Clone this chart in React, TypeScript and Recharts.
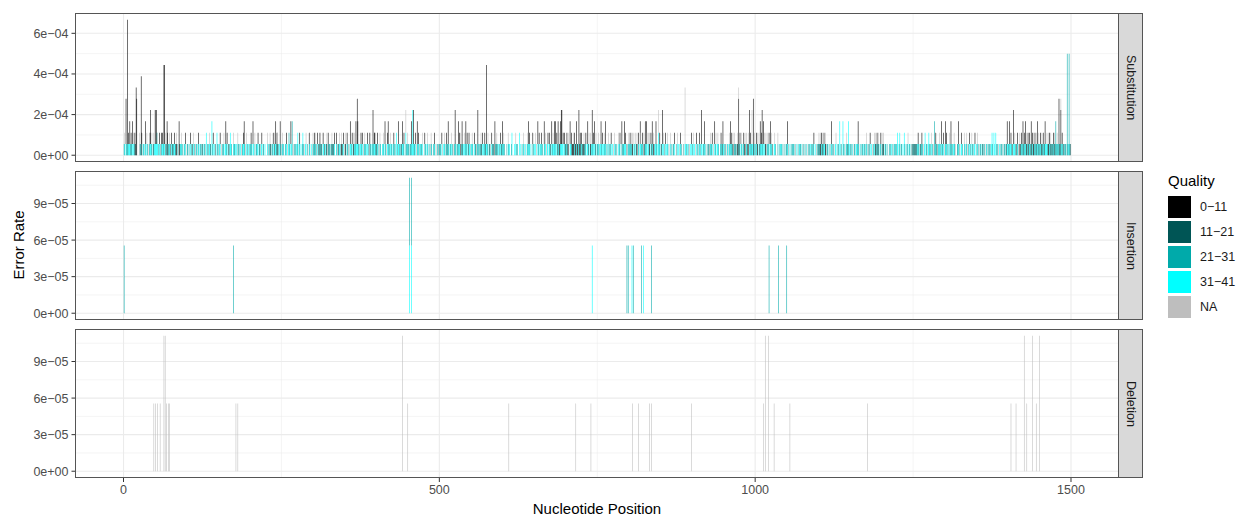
import React from "react";
import { BarChart, Bar, XAxis, YAxis, CartesianGrid } from "recharts";

// one read out of 18000 -> every bar is a whole number of these steps
const STEP = 1 / 18000;
const LAST_POSITION = 1500;

const qualityKeys = ["q0", "q1", "q2", "q3", "qNA"];
const qualityLabels = ["0\u221211", "11\u221221", "21\u221231", "31\u221241", "NA"];
const qualityColors = ["#000000", "#005555", "#00AAAA", "#00FFFF", "#BEBEBE"];
// ggplot stacks the last level at the bottom
const stackOrder = [3, 2, 1, 0, 4];

// Substitution, one character per position (100 per line, spaces only for reading)
// .           nothing
// c t d k g   one step of 31-41 / 21-31 / 11-21 / 0-11 / NA
// C T D K G   that step with one NA step on top
// B V W w     cyan / teal / 11-21 / cyan step with one 0-11 step on top
// x z         cyan+cyan, teal+cyan
// 3..9        a cyan step with 0-11 steps up to that height
const substitutionCodes = [
  "tC.dtTtBc3 tVt3.Cdwkd k...GttcB. tc.t3.Ctg. tB4tC.dT4c 4txCt.BtgV cBtC8.DtwW ttCd.wtdtc BtdK.tg3dc tCt..tcBg.",
  "tt.cgB.td. Ct.gtc.tB. ctt.dc.tcg x.t.tCcd.3 tB.cgd.xt. tcB.g.ttC. c3tB.d.txc t..Cttc.cg Ctt.c.gtcB 3tg.Ct.c.t",
  "tBt.3cgC.t tcB.td.cw. tt.c...Ctg cDd.ttB.Dc 3tWDt.c3d. tCt..ctB.g czt.3cx.g. tt.ctx.tB. c.txtg.cC. tg.Bt..cgC",
  "tBdCtgw.dt Wtdt.wcd.c tK.Bdtt.cK tdtB..wtgd cCt.KdtB.g Kt.Btgt.3c tB.KtCt3cd 3tt.cBtw.g tCt.cB.tgW tc.t4tBwtd",
  "tBt.gCt..c tC.3tg.B3t t.Ctc.tBtg cx.t3ct.td c3tB.g4ttC tt.cd3cx4t tB.g3twt.c ttC..gBtc. Ct..tgCt.. tBt..gcd.t",
  "tt.Bg.cCt. Bdt3t.ctC. tg.t4c.tt3 tB.Kt3dc.C t3tB.dwc.t cCt..Btd.t 4t.tcKtB.c tBdc8tC.dt g.Btdt.3cd Ct.ct.Btd3",
  "tCt..gc.Ct c..tx...c. Ct.t..x.c. t.Ct.c..tC 3tB.c.gwt. cC.g.3tB.c tBt..3tC.g cB.wtd.3tC c3t3.Bd3tK t3t4cw.Btd",
  "tBdK..3cwk kKdBdk3dkt 4kWdBtdkCd tB.c3dC.Kt c4tB.3dC.t tCt.c3tB.c Ct3t.cgCt. tB.c.gC.t. t..CtB.g3t tt3cB.d.tC",
  "tBtCdK.Ct. CdK.Bt.3Ct tB.Kt3t3C. CtK.Bd3tK. tC3t.c4tB. td4.CtgB.c Ct..gCt..t tB..tgC.c. tBt..gt.6c t.c.tg.cB.",
  "tC.c.gB.t. tBt.4c.tt3 cg.t.td.Ct tB.g.3tC.c Ct..tBtd3c t.tg.ct.Ct 3tBtK.Cdt. tKtWdB.Ct. tBdK.CtdK. 4tBt4c5dC.",
  "tBtK.Cd3tB 4t3.CdK.Ct tB.3tCd..c Ct..gC.t.c tc.t.gc.tt 3tg.c.t.tc t.tg.c.t.c tt.cg.t.t. cg.t.t.ct. ttB..cg.tt",
  "DtKdBtDtBc Kd.tt.cg.t 3t.tg.cC.. tt.3cgt.3t cg.tCtd3c. tt.cg.tt.c ct3t.gc.tt c.tt.Ct.tg tB.c.gt.Ct KtBdDc.tB.",
  "DtKc.tt.cg ..tt.c.t.t ct.txc.tx. tt.c.xt.cg tC.tc.tgdc ddtdtdcBt. tdtBtg.cx. tt.cxt.tC. tg.3tBtd.c tCt.3ttB.g",
  "3tBt.cgCt3 tt.cCtg..t t3tg.cBt.. Ct.tCg.tB. t.Ctt.cB.. tCtg.tt.cd t.tg.ct.t. tt.cxt.xc. xt.tg.c.tt cg.tt.td3c",
  "tt3cBtd.4c Ct.dBtg.Kd tBt3dwt3tK cWdwtt3cBd KtBtDc3dCt tBdDtwtd3c cCtKdBtDtd tBdDt3tCtc 5dt5cBtd.t tt.9tc9td.",
];

// taller substitution bars: [position, 0-11, 11-21, 21-31, 31-41, NA] in steps
const substitutionTall = [
  [4, 4, 0, 0, 1, 0], [6, 11, 0, 1, 0, 0], [14, 2, 0, 0, 1, 0], [20, 5, 1, 0, 0, 0],
  [21, 5, 0, 0, 0, 0], [28, 7, 0, 0, 0, 0], [35, 2, 0, 0, 1, 0], [43, 3, 0, 0, 1, 0],
  [49, 0, 0, 0, 1, 3], [52, 3, 0, 0, 1, 0], [64, 7, 0, 0, 1, 0], [69, 2, 1, 0, 0, 0],
  [88, 3, 0, 0, 0, 0], [140, 0, 0, 0, 3, 0], [267, 0, 0, 3, 0, 0], [370, 4, 0, 0, 1, 0],
  [395, 3, 0, 0, 1, 0], [447, 0, 0, 0, 2, 2], [458, 0, 0, 0, 4, 0], [525, 3, 0, 1, 0, 0],
  [561, 3, 0, 0, 1, 0], [575, 7, 0, 0, 1, 0], [588, 3, 0, 0, 0, 0], [693, 3, 0, 0, 1, 0],
  [721, 3, 0, 0, 1, 0], [742, 3, 0, 0, 1, 0], [847, 0, 0, 0, 2, 2], [853, 3, 0, 0, 1, 0],
  [889, 0, 0, 0, 1, 5], [915, 3, 0, 0, 1, 0], [974, 4, 1, 0, 0, 1], [991, 3, 0, 0, 1, 0],
  [995, 0, 0, 0, 1, 3], [997, 4, 1, 0, 0, 0], [1011, 3, 0, 0, 1, 0], [1134, 0, 0, 0, 3, 0],
  [1139, 0, 0, 0, 3, 0], [1148, 0, 0, 0, 3, 0], [1284, 0, 0, 3, 0, 0], [1409, 3, 0, 0, 1, 0],
  [1437, 3, 0, 0, 0, 0], [1476, 0, 0, 3, 0, 0], [1481, 4, 1, 0, 0, 0], [1484, 3, 1, 0, 0, 1],
  [1494, 0, 0, 9, 0, 0], [1497, 0, 0, 9, 0, 0],
];

// insertion bars: [position, 0-11, 11-21, 21-31, 31-41, NA] in steps
const insertionBars = [
  [1, 0, 0, 1, 0, 0], [174, 0, 0, 1, 0, 0], [453, 0, 0, 1, 1, 0], [456, 0, 0, 1, 1, 0],
  [742, 0, 0, 0, 1, 0], [797, 0, 0, 1, 0, 0], [799, 0, 0, 1, 0, 0], [805, 0, 0, 0, 1, 0],
  [807, 0, 0, 1, 0, 0], [820, 0, 0, 1, 0, 0], [823, 0, 0, 0, 1, 0], [836, 0, 0, 1, 0, 0],
  [1022, 0, 0, 1, 0, 0], [1037, 0, 0, 1, 0, 0], [1050, 0, 0, 1, 0, 0],
];

// deletions all have quality NA: [position, steps]
const deletionBars = [
  [48, 1], [51, 1], [54, 1], [58, 1], [64, 2], [66, 2], [68, 1], [71, 1], [73, 1],
  [178, 1], [181, 1], [442, 2], [450, 1], [610, 1], [716, 1], [740, 1], [806, 1],
  [815, 1], [833, 1], [836, 1], [899, 1], [1013, 1], [1016, 2], [1021, 2], [1030, 1],
  [1055, 1], [1178, 1], [1405, 1], [1413, 1], [1426, 2], [1430, 1], [1439, 2],
  [1445, 1], [1450, 2],
];

const xTicks = [0, 500, 1000, 1500];
const xMinor = [250, 750, 1250];
const xDomain = [-76, 1576];

const subTicks = [0, 2e-4, 4e-4, 6e-4];
const subTickLabels = ["0e+00", "2e\u221204", "4e\u221204", "6e\u221204"];
const subMinor = [1e-4, 3e-4, 5e-4];
const subDomain = [-3.333e-5, 7.0e-4];

const indelTicks = [0, 3e-5, 6e-5, 9e-5];
const indelTickLabels = ["0e+00", "3e\u221205", "6e\u221205", "9e\u221205"];
const indelMinor = [1.5e-5, 4.5e-5, 7.5e-5, 1.05e-4];
const indelDomain = [-5.556e-6, 1.1667e-4];

const codeSteps: Record<string, number[]> = {
  c: [0, 0, 0, 1, 0], t: [0, 0, 1, 0, 0], d: [0, 1, 0, 0, 0], k: [1, 0, 0, 0, 0], g: [0, 0, 0, 0, 1],
  C: [0, 0, 0, 1, 1], T: [0, 0, 1, 0, 1], D: [0, 1, 0, 0, 1], K: [1, 0, 0, 0, 1], G: [0, 0, 0, 0, 2],
  B: [1, 0, 0, 1, 0], V: [1, 0, 1, 0, 0], W: [1, 1, 0, 0, 0], w: [1, 0, 0, 1, 0],
  x: [0, 0, 0, 2, 0], z: [0, 0, 1, 1, 0],
};

function toRows(steps: Map<number, number[]>) {
  const rows: Record<string, number>[] = [];
  for (let p = 1; p <= LAST_POSITION; p++) {
    const s = steps.get(p) || [0, 0, 0, 0, 0];
    const row: Record<string, number> = { pos: p };
    qualityKeys.forEach((k, i) => (row[k] = s[i] * STEP));
    rows.push(row);
  }
  return rows;
}

const subSteps = new Map<number, number[]>();
substitutionCodes.forEach((line, li) => {
  line.replace(/ /g, "").split("").forEach((ch, i) => {
    let s = codeSteps[ch];
    if (!s && ch >= "3" && ch <= "9") s = [Number(ch) - 1, 0, 0, 1, 0];
    if (s) subSteps.set(li * 100 + i + 1, s);
  });
});
substitutionTall.forEach(([p, ...s]) => subSteps.set(p, s));

const insSteps = new Map<number, number[]>();
insertionBars.forEach(([p, ...s]) => insSteps.set(p, s));

const delSteps = new Map<number, number[]>();
deletionBars.forEach(([p, n]) => delSteps.set(p, [0, 0, 0, 0, n]));

const substitutionRows = toRows(subSteps);
const insertionRows = toRows(insSteps);
const deletionRows = toRows(delSteps);

const PANEL_LEFT = 75.5;
const PANEL_RIGHT = 1119;
const PANEL_H = 149;
const X_AXIS_H = 30;
const FONT = "'Liberation Sans', Arial, Helvetica, sans-serif";

interface PanelProps {
  rows: Record<string, number>[];
  top: number;
  label: string;
  domain: number[];
  ticks: number[];
  tickLabels: string[];
  minor: number[];
  showX?: boolean;
}

function Panel({ rows, top, label, domain, ticks, tickLabels, minor, showX = false }: PanelProps) {
  return (
    <div style={{ position: "absolute", left: 0, top }}>
      <BarChart
        width={PANEL_RIGHT + 1}
        height={PANEL_H + (showX ? X_AXIS_H : 0)}
        data={rows}
        margin={{ top: 0, right: 1, bottom: 0, left: 0 }}
        barCategoryGap="5%"
      >
        <CartesianGrid
          horizontalValues={minor}
          verticalValues={xMinor}
          stroke="#EBEBEB"
          strokeWidth={0.55}
        />
        <CartesianGrid
          horizontalValues={ticks}
          verticalValues={xTicks}
          stroke="#EBEBEB"
          strokeWidth={1.1}
        />
        <XAxis
          type="number"
          dataKey="pos"
          domain={xDomain}
          allowDataOverflow
          ticks={xTicks}
          interval={0}
          hide={!showX}
          height={X_AXIS_H}
          axisLine={false}
          tickSize={4}
          tickMargin={3}
          tickLine={{ stroke: "#333333" }}
          tick={{ fontSize: 12.5, fill: "#4D4D4D" }}
        />
        <YAxis
          type="number"
          domain={domain}
          allowDataOverflow
          ticks={ticks}
          interval={0}
          width={PANEL_LEFT}
          axisLine={false}
          tickSize={4}
          tickMargin={3}
          tickLine={{ stroke: "#333333" }}
          tick={{ fontSize: 12.5, fill: "#4D4D4D" }}
          tickFormatter={(v: number) => tickLabels[ticks.indexOf(v)] ?? String(v)}
        />
        {stackOrder.map((i) => (
          <Bar
            key={qualityKeys[i]}
            dataKey={qualityKeys[i]}
            stackId="quality"
            fill={qualityColors[i]}
            isAnimationActive={false}
          />
        ))}
      </BarChart>
      {/* panel border */}
      <div
        style={{
          position: "absolute",
          left: 75,
          top: 0,
          width: PANEL_RIGHT - 75,
          height: PANEL_H,
          border: "1px solid #555555",
          boxSizing: "border-box",
          pointerEvents: "none",
        }}
      />
      {/* facet strip */}
      <div
        style={{
          position: "absolute",
          left: PANEL_RIGHT - 1,
          top: 0,
          width: 25,
          height: PANEL_H,
          background: "#D9D9D9",
          border: "1px solid #555555",
          boxSizing: "border-box",
          display: "flex",
          alignItems: "center",
          justifyContent: "center",
        }}
      >
        <span style={{ writingMode: "vertical-rl", fontSize: 12.5, color: "#1A1A1A" }}>{label}</span>
      </div>
    </div>
  );
}

export default function App() {
  return (
    <div
      style={{
        position: "absolute",
        left: 0,
        top: 0,
        width: 1242,
        height: 516,
        background: "#FFFFFF",
        overflow: "hidden",
        fontFamily: FONT,
      }}
    >
      <Panel
        rows={substitutionRows}
        top={13}
        label="Substitution"
        domain={subDomain}
        ticks={subTicks}
        tickLabels={subTickLabels}
        minor={subMinor}
      />
      <Panel
        rows={insertionRows}
        top={171}
        label="Insertion"
        domain={indelDomain}
        ticks={indelTicks}
        tickLabels={indelTickLabels}
        minor={indelMinor}
      />
      <Panel
        rows={deletionRows}
        top={329}
        label="Deletion"
        domain={indelDomain}
        ticks={indelTicks}
        tickLabels={indelTickLabels}
        minor={indelMinor}
        showX
      />

      {/* axis titles */}
      <div
        style={{
          position: "absolute",
          left: 18,
          top: 245,
          transform: "translate(-50%, -50%) rotate(-90deg)",
          fontSize: 15,
          whiteSpace: "nowrap",
          color: "#000",
        }}
      >
        Error Rate
      </div>
      <div
        style={{
          position: "absolute",
          left: 597,
          top: 508,
          transform: "translate(-50%, -50%)",
          fontSize: 15,
          whiteSpace: "nowrap",
          color: "#000",
        }}
      >
        Nucleotide Position
      </div>

      {/* legend */}
      <div style={{ position: "absolute", left: 1168, top: 172, fontSize: 15, color: "#000" }}>Quality</div>
      {qualityLabels.map((lab, i) => (
        <React.Fragment key={lab}>
          <div
            style={{
              position: "absolute",
              left: 1168,
              top: 196 + i * 25,
              width: 23,
              height: 22,
              background: qualityColors[i],
            }}
          />
          <div
            style={{
              position: "absolute",
              left: 1200,
              top: 196 + i * 25,
              height: 22,
              lineHeight: "22px",
              fontSize: 12.5,
              color: "#1A1A1A",
            }}
          >
            {lab}
          </div>
        </React.Fragment>
      ))}
    </div>
  );
}
